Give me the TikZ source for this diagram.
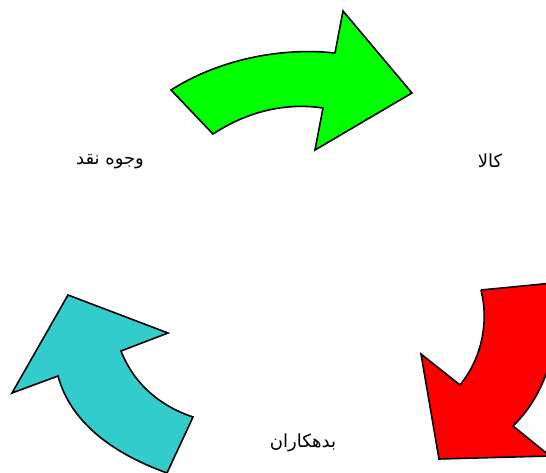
\documentclass[tikz,border=0pt]{standalone}
\usepackage{fontspec}
\usepackage{xcolor}
\usepackage{tikz}
\TeXXeTstate=1
\newfontfamily\arabicfont[Script=Arabic]{DejaVu Sans}
\definecolor{CY_GREEN}{HTML}{00FF00}
\definecolor{CY_RED}{HTML}{FF0000}
\definecolor{CY_CYAN}{HTML}{33CCCC}
\tikzset{
  bigarrow/.style={draw=black, line width=1.6pt, line join=miter},
  lbl/.style={font=\arabicfont\fontsize{18}{22}\selectfont, inner sep=1pt, text=black},
}

\begin{document}
\begin{tikzpicture}[x=1pt, y=-1pt]

  \useasboundingbox (0,0) rectangle (546,472);
  \clip (0,0) rectangle (546,472);

  % top arrow -- green
  \filldraw[bigarrow, fill=CY_GREEN]
    (171,90) .. controls (218,60) and (280,47) .. (335,53)
    -- (343,11) -- (412,93) -- (315,150) -- (323,108)
    .. controls (283,102) and (245,113) .. (213,134) -- cycle;

  % right arrow -- red
  \filldraw[bigarrow, fill=CY_RED]
    (481,290) -- (553,283)
    .. controls (562,340) and (548,392) .. (513,426)
    -- (550,456) -- (439,459) -- (421,354) -- (460,385)
    .. controls (482,358) and (489,322) .. (481,290);

  % left arrow -- cyan
  \filldraw[bigarrow, fill=CY_CYAN]
    (68,295) -- (168,333) -- (121,351)
    .. controls (134,384) and (160,406) .. (193,417)
    -- (167,473)
    .. controls (109,452) and (70,420) .. (58,376)
    -- (12,393) -- cycle;

  \node[lbl] (cash)    at (110,162) {\beginR وجوه نقد\endR};
  \node[lbl] (goods)   at (490,161) {\beginR کالا\endR};
  \node[lbl] (debtors) at (303,443) {\beginR بدهکاران\endR};

\end{tikzpicture}
\end{document}
